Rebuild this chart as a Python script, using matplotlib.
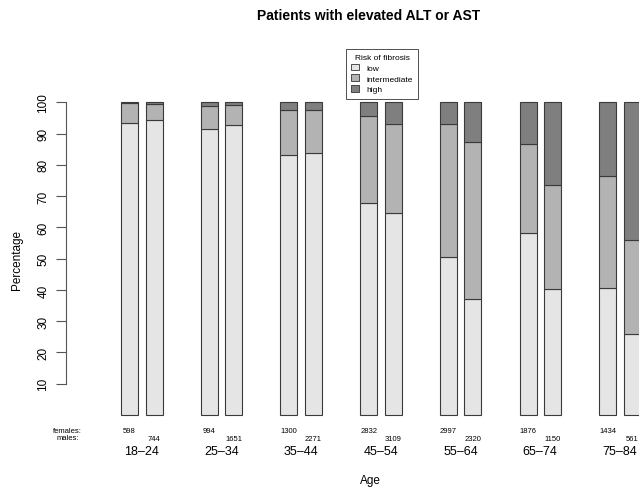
import numpy as np
import matplotlib
matplotlib.use("Agg")
import matplotlib.pyplot as plt
from matplotlib.patches import Patch

plt.rcParams["font.family"] = ["Liberation Sans", "DejaVu Sans"]

# age groups and counts
ages = ["18\u201324", "25\u201334", "35\u201344", "45\u201354", "55\u201364", "65\u201374", "75\u201384"]
n_females = [598, 994, 1300, 2832, 2997, 1876, 1434]
n_males = [744, 1651, 2271, 3109, 2320, 1150, 561]

# percentage of patients in each risk class (low / intermediate / high)
low_f = [93.4, 91.5, 83.2, 67.8, 50.5, 58.3, 40.6]
inter_f = [6.3, 7.2, 14.4, 27.7, 42.5, 28.4, 35.9]
low_m = [94.4, 92.8, 83.7, 64.5, 37.1, 40.3, 25.8]
inter_m = [5.1, 6.3, 13.9, 28.7, 50.1, 33.2, 30.3]

high_f = [100 - a - b for a, b in zip(low_f, inter_f)]
high_m = [100 - a - b for a, b in zip(low_m, inter_m)]

colors = ["#e5e5e5", "#b3b3b3", "#7f7f7f"]
labels = ["low", "intermediate", "high"]

# layout (bar width = 1 unit)
px = 17.0
ax_l, ax_r = 66, 676
left0 = (121 - ax_l) / px
step = 79.7 / px
pair = 24.5 / px
x_f = np.array([left0 + i * step for i in range(len(ages))]) + 0.5
x_m = x_f + pair

fig = plt.figure(figsize=(6.39, 4.89), dpi=100)
W, H = 639, 489
ax_t, ax_b = 90.8, 428.5
ax = fig.add_axes([ax_l / W, 1 - ax_b / H, (ax_r - ax_l) / W, (ax_b - ax_t) / H])
ax.set_xlim(0, (ax_r - ax_l) / px)
ax.set_ylim(-4, 104)

for xs, lo, mid, hi in [(x_f, low_f, inter_f, high_f), (x_m, low_m, inter_m, high_m)]:
    bottom = np.zeros(len(xs))
    for vals, c in zip([lo, mid, hi], colors):
        ax.bar(xs, vals, width=1.0, bottom=bottom, color=c, edgecolor="#3a3a3a", linewidth=0.8)
        bottom += np.array(vals)

for s in ["top", "right", "bottom"]:
    ax.spines[s].set_visible(False)
ax.spines["left"].set_bounds(10, 100)
ax.spines["left"].set_linewidth(0.8)
ax.spines["left"].set_color("#555555")
ax.set_xticks([])
ax.set_yticks(range(10, 101, 10))
ax.tick_params(axis="y", length=7, width=0.8, color="#555555", labelsize=8.5, pad=5)
for t in ax.get_yticklabels():
    t.set_rotation(90)
    t.set_va("center")

fig.text(17 / W, 1 - 260 / H, "Percentage", rotation=90, ha="center", va="center", fontsize=8.5)

# counts and age labels below the bars
for i in range(len(ages)):
    ax.text(x_f[i], -4.9, str(n_females[i]), ha="center", va="center", fontsize=5.5, clip_on=False)
    ax.text(x_m[i], -7.4, str(n_males[i]), ha="center", va="center", fontsize=5.5, clip_on=False)
    ax.text((x_f[i] + x_m[i]) / 2, -11.5, ages[i], ha="center", va="center", fontsize=9, clip_on=False)
fig.text(67.5 / W, 1 - 432 / H, "females:", ha="center", va="center", fontsize=5.5)
fig.text(67.5 / W, 1 - 439 / H, "males:", ha="center", va="center", fontsize=5.5)

fig.text(370 / W, 1 - 481 / H, "Age", ha="center", va="center", fontsize=8.5)
fig.text(369 / W, 1 - 16 / H, "Patients with elevated ALT or AST", ha="center", va="center",
         fontsize=10, fontweight="bold")

handles = [Patch(facecolor=c, edgecolor="#333333", linewidth=0.6) for c in colors]
leg = fig.legend(handles, labels, title="Risk of fibrosis", loc="upper center",
                 bbox_to_anchor=(382 / W, 1 - 50 / H), fontsize=6, title_fontsize=6,
                 frameon=True, fancybox=False, edgecolor="black", handlelength=0.9,
                 handleheight=0.9, handletextpad=0.9, borderpad=0.6, labelspacing=0.3,
                 borderaxespad=0)
leg.get_frame().set_linewidth(0.6)

fig.savefig("out.png", dpi=100)
